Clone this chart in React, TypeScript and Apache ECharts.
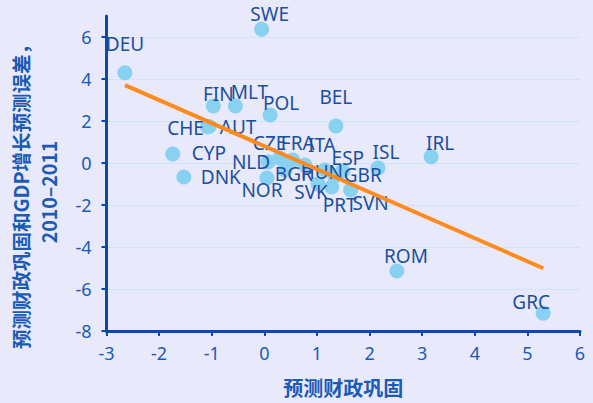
import React, { useEffect, useRef } from "react";
import * as echarts from "echarts";

const countries = ["DEU","SWE","FIN","MLT","POL","BEL","CHE","AUT","CYP","DNK","NLD","NOR","CZE","FRA","ITA","BGR","HUN","ESP","ISL","GBR","SVK","PRT","SVN","IRL","ROM","GRC"];
const consolidation = [-2.65,-0.05,-0.97,-0.55,0.11,1.36,-1.08,-1.05,-1.74,-1.53,0.07,0.05,0.29,0.54,0.77,0.39,1.15,1.34,2.16,1.49,1.02,1.28,1.64,3.17,2.52,5.3];
const forecastError = [4.3,6.37,2.71,2.71,2.29,1.76,1.72,1.74,0.43,-0.67,0.05,-0.71,0.24,0.14,-0.1,-0.33,-0.33,-0.62,-0.24,-0.38,-1.0,-1.14,-1.29,0.3,-5.14,-7.16];
const trendX = [-2.65, 5.3];
const trendY = [3.71, -5.01];
const yTicks = [-8,-6,-4,-2,0,2,4,6];

// label placement (pixel offsets relative to each point)
const labelOffsets: [number, number][] = [
  [0,-29],[8,-15],[5,-12],[14,-14],[11,-12],[0,-29],[-22,1],[29,1],[36,-1],[37,0],
  [-17,0],[-5,12],[-10,-15],[5,-17],[17,-20],[9,4],[-3,2],[13,-18],[8,-16],[20,4],
  [-7,8],[8,18],[20,13],[9,-14],[9,-15],[-12,-11],
];

const AXIS = "#0d4aa3";
const TEXT = "#1a5bb5";
const LABEL = "#1b4f9e";

export default function App() {
  const ref = useRef<HTMLDivElement>(null);
  useEffect(() => {
    if (!ref.current) return;
    const chart = echarts.init(ref.current, undefined, { renderer: "svg" });
    const pts = countries.map((c, i) => ({
      name: c,
      value: [consolidation[i], forecastError[i]],
      label: { offset: labelOffsets[i] },
    }));
    chart.setOption({
      animation: false,
      backgroundColor: "#e8e9fb",
      grid: { left: 106.5, right: 13, top: 16, bottom: 72 },
      xAxis: {
        type: "value", min: -3, max: 6, interval: 1,
        axisLine: { show: true, onZero: false, lineStyle: { color: AXIS, width: 3 } },
        axisTick: { show: true, length: 5, lineStyle: { color: AXIS, width: 2 } },
        axisLabel: { color: TEXT, fontSize: 18, fontFamily: "Noto Sans", margin: 13 },
        splitLine: { show: false },
        name: "预测财政巩固", nameLocation: "middle", nameGap: 46,
        nameTextStyle: { color: TEXT, fontSize: 20, fontWeight: "bold", fontFamily: "Noto Sans CJK SC" },
      },
      yAxis: {
        type: "value", min: -8, max: 7, interval: 2,
        axisLine: { show: true, onZero: false, lineStyle: { color: AXIS, width: 3 } },
        axisTick: { show: true, length: 5, lineStyle: { color: AXIS, width: 2 }, customValues: yTicks },
        axisLabel: { color: TEXT, fontSize: 18, fontFamily: "Noto Sans", margin: 15, customValues: yTicks },
        splitLine: { show: true, lineStyle: { color: "#cfe5f7", width: 1 } },
      },
      graphic: [{
        type: "text", x: 34, y: 192, rotation: Math.PI / 2,
        style: {
          text: "预测财政巩固和GDP增长预测误差，\n2010–2011",
          fill: TEXT, font: "bold 19.5px 'Noto Sans CJK SC'",
          align: "center", verticalAlign: "middle", lineHeight: 28,
        },
      }],
      series: [
        {
          type: "scatter", z: 2, symbolSize: 15,
          itemStyle: { color: "#89d1f1", opacity: 1 },
          label: {
            show: true, position: "inside", formatter: "{b}",
            color: LABEL, fontSize: 19, fontFamily: "Noto Sans",
          },
          data: pts,
        },
        {
          type: "line", z: 3, symbol: "none",
          lineStyle: { color: "#ff8a1d", width: 4 },
          data: trendX.map((x, i) => [x, trendY[i]]),
        },
      ],
    });
    return () => chart.dispose();
  }, []);
  return <div ref={ref} style={{ position: "fixed", left: 0, top: 0, width: 593, height: 403 }} />;
}
